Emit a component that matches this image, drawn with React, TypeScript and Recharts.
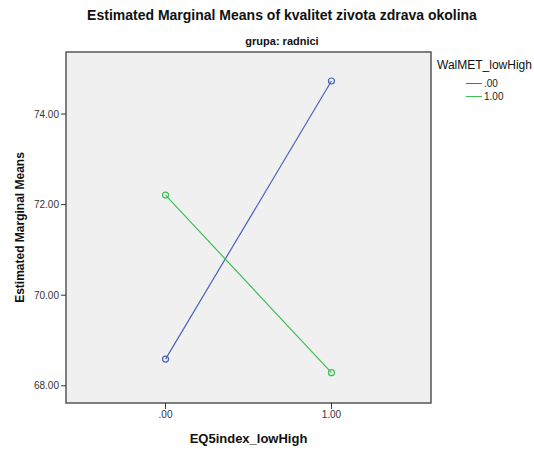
import { LineChart, Line, XAxis, YAxis, ReferenceArea, Label } from "recharts";

// EQ5index_lowHigh levels and estimated marginal means per WalMET_lowHigh group
const xLevels = [0, 1];
const meansLow = [68.59, 74.73]; // WalMET_lowHigh = .00
const meansHigh = [72.21, 68.29]; // WalMET_lowHigh = 1.00
const yTicks = [68, 70, 72, 74];
const seriesNames = [".00", "1.00"];
const seriesColors = ["#4a64b8", "#3cbf55"];

const X_DOMAIN: [number, number] = [-0.6, 1.6];
const Y_DOMAIN: [number, number] = [67.62, 75.37];

const data = xLevels.map((x, i) => ({ x, low: meansLow[i], high: meansHigh[i] }));

const FONT = "'Liberation Sans', Arial, sans-serif";

function fmtLevel(v: number): string {
  return v === 0 ? ".00" : v.toFixed(2);
}

export default function App() {
  return (
    <div style={{ position: "absolute", left: 0, top: 0, width: 534, height: 449, background: "#fff", fontFamily: FONT }}>
      <div style={{ position: "absolute", top: 7, left: 82, width: 400, textAlign: "center", fontSize: 14, fontWeight: "bold", color: "#111" }}>
        Estimated Marginal Means of kvalitet zivota zdrava okolina
      </div>
      <div style={{ position: "absolute", top: 35, left: 182, width: 200, textAlign: "center", fontSize: 11, fontWeight: "bold", color: "#111" }}>
        grupa: radnici
      </div>

      {/* legend */}
      <div style={{ position: "absolute", top: 58, left: 437, fontSize: 12, color: "#111" }}>WalMET_lowHigh</div>
      {seriesNames.map((name, i) => (
        <div key={name} style={{ position: "absolute", top: 78 + i * 13, left: 466, display: "flex", alignItems: "center", fontSize: 10, color: "#222" }}>
          <div style={{ width: 16, height: 1, background: seriesColors[i], marginRight: 2 }} />
          {name}
        </div>
      ))}

      <LineChart width={534} height={449} data={data} margin={{ top: 52, right: 103, bottom: 0, left: 0 }} style={{ position: "absolute", left: 0, top: 0 }}>
        <ReferenceArea x1={X_DOMAIN[0]} x2={X_DOMAIN[1]} y1={Y_DOMAIN[0]} y2={Y_DOMAIN[1]} fill="#f0f0f0" fillOpacity={1} stroke="#555" strokeWidth={1.5} ifOverflow="extendDomain" />
        <XAxis
          dataKey="x"
          type="number"
          domain={X_DOMAIN}
          ticks={xLevels}
          tickFormatter={fmtLevel}
          allowDataOverflow
          axisLine={false}
          tickSize={6}
          tickLine={{ stroke: "#333" }}
          tick={{ fontSize: 10, fill: "#333", fontFamily: FONT }}
          height={46}
        >
          <Label value="EQ5index_lowHigh" position="insideBottom" offset={6} style={{ fontSize: 13, fontWeight: "bold", fill: "#111", fontFamily: FONT }} />
        </XAxis>
        <YAxis
          type="number"
          domain={Y_DOMAIN}
          ticks={yTicks}
          tickFormatter={(v: number) => v.toFixed(2)}
          allowDataOverflow
          axisLine={false}
          tickSize={5}
          tickLine={{ stroke: "#333" }}
          tick={{ fontSize: 10, fill: "#333", fontFamily: FONT }}
          width={66}
        >
          <Label value="Estimated Marginal Means" angle={-90} position="insideLeft" offset={20} style={{ fontSize: 12, fontWeight: "bold", fill: "#111", fontFamily: FONT, textAnchor: "middle" }} />
        </YAxis>
        <Line dataKey="low" stroke={seriesColors[0]} strokeWidth={1.2} dot={{ r: 3, fill: "none", stroke: seriesColors[0], strokeWidth: 1.2 }} isAnimationActive={false} />
        <Line dataKey="high" stroke={seriesColors[1]} strokeWidth={1.2} dot={{ r: 3, fill: "none", stroke: seriesColors[1], strokeWidth: 1.2 }} isAnimationActive={false} />
      </LineChart>
    </div>
  );
}
